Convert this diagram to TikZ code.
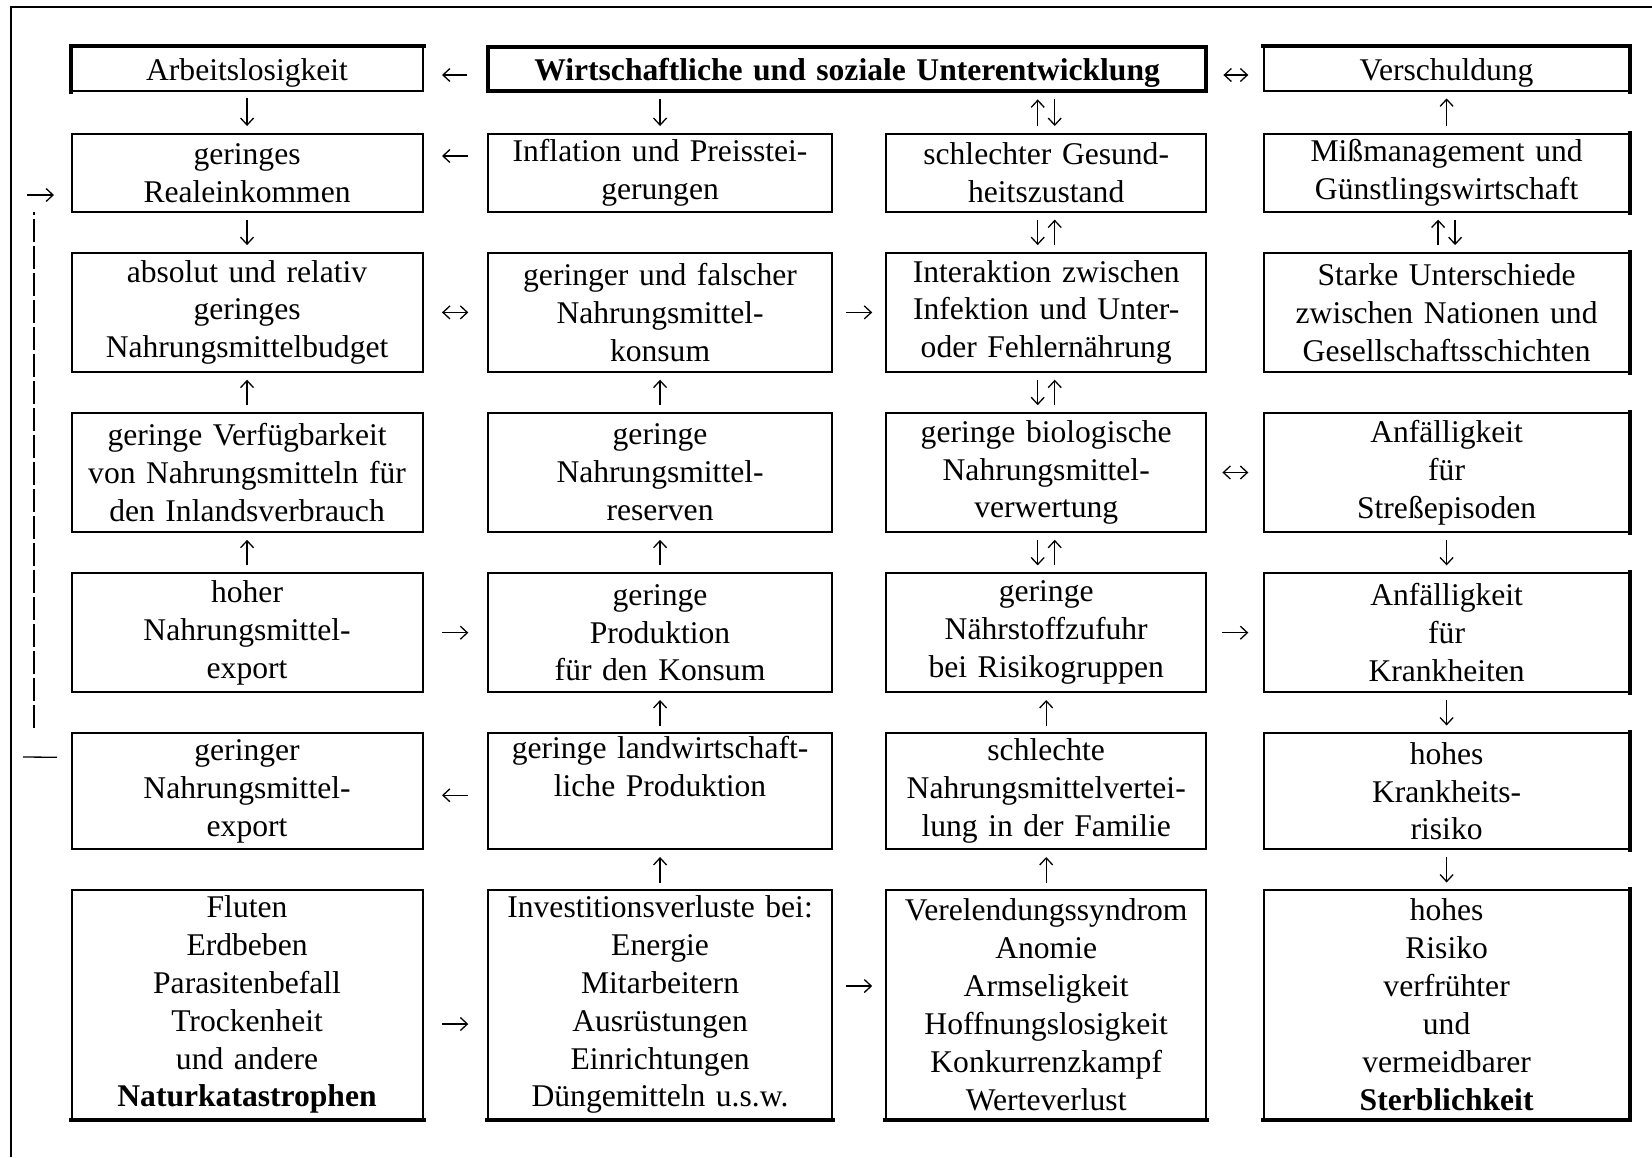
\documentclass[tikz,border=0pt]{standalone}
\usepackage{fontspec}
\setmainfont{Liberation Serif}
\usetikzlibrary{arrows.meta}
\newcommand\bxfont{\fontsize{15.8}{18.95}\selectfont}
\begin{document}
\begin{tikzpicture}[x=0.5pt,y=-0.5pt,
  bx/.style={draw, line width=1pt, inner sep=0pt, align=center, font=\bxfont},
  cA/.style={minimum width=175.45pt, text width=171pt},
  cB/.style={minimum width=172.25pt, text width=168pt},
  cC/.style={minimum width=160.2pt, text width=156pt},
  cD/.style={minimum width=182.3pt, text width=178pt},
  cT/.style={minimum width=359.3pt, text width=355pt},
  rA/.style={minimum height=21.6pt, text height=13pt, text depth=1.4pt},
  rB/.style={minimum height=39pt},
  rC/.style={minimum height=59.5pt},
  rF/.style={minimum height=57.95pt},
  rG/.style={minimum height=114.3pt},
  tip/.tip={Straight Barb[length=3.5pt,width=6.5pt]},
  conn/.style={line width=0.65pt, -tip},
  dbl/.style={line width=0.65pt, tip-tip},
  hg/.style={shorten <=#1, shorten >=#1},
  vg/.style={shorten <=3.4pt, shorten >=3.4pt},
  edgetwo/.style={line width=2pt, line cap=rect},
  fbl/.style={line width=0.65pt}
]
\useasboundingbox (0,0) rectangle (1652,1157);
% outer frame
\draw[line width=1pt] (11,1157) -- (11,7) -- (1652,7);

% row 0
\node[bx,cA,rA] (arb) at (247.05,69) {Arbeitslosigkeit};
\node[bx,cT,rA,line width=2pt,font=\bxfont\bfseries] (top) at (847.1,69) {Wirtschaftliche und soziale Unterentwicklung};
\node[bx,cD,rA] (vsch) at (1446.6,69) {Verschuldung};
% row 1
\node[bx,cA,rB] (real) at (247.05,172.8) {geringes\\Realeinkommen};
\node[bx,cB,rB] (infl) at (660.05,172.8) {Inflation und Preisstei-\\gerungen};
\node[bx,cC,rB] (ges) at (1046.2,172.8) {schlechter Gesund-\\heitszustand};
\node[bx,cD,rB] (miss) at (1446.6,172.8) {Mißmanagement und\\Günstlingswirtschaft};
% row 2
\node[bx,cA,rC] (budg) at (247.05,312.4) {absolut und relativ\\geringes\\Nahrungsmittelbudget};
\node[bx,cB,rC] (kons) at (660.05,312.4) {geringer und falscher\\Nahrungsmittel-\\konsum};
\node[bx,cC,rC] (inter) at (1046.2,312.4) {Interaktion zwischen\\Infektion und Unter-\\oder Fehlernährung};
\node[bx,cD,rC] (unter) at (1446.6,312.4) {Starke Unterschiede\\zwischen Nationen und\\Gesellschaftsschichten};
% row 3
\node[bx,cA,rC] (verf) at (247.05,472.5) {geringe Verfügbarkeit\\von Nahrungsmitteln für\\den Inlandsverbrauch};
\node[bx,cB,rC] (res) at (660.05,472.5) {geringe\\Nahrungsmittel-\\reserven};
\node[bx,cC,rC] (bio) at (1046.2,472.5) {geringe biologische\\Nahrungsmittel-\\verwertung};
\node[bx,cD,rC] (stress) at (1446.6,472.5) {Anfälligkeit\\für\\Streßepisoden};
% row 4
\node[bx,cA,rC] (expa) at (247.05,632.7) {hoher\\Nahrungsmittel-\\export};
\node[bx,cB,rC] (prod) at (660.05,632.7) {geringe\\Produktion\\für den Konsum};
\node[bx,cC,rC] (naehr) at (1046.2,632.7) {geringe\\Nährstoffzufuhr\\bei Risikogruppen};
\node[bx,cD,rC] (krank) at (1446.6,632.7) {Anfälligkeit\\für\\Krankheiten};
% row 5
\node[bx,cA,rF] (expb) at (247.05,791.25) {geringer\\Nahrungsmittel-\\export};
\node[bx,cB,rF] (landw) at (660.05,791.25) {geringe landwirtschaft-\\liche Produktion\\\strut};
\node[bx,cC,rF] (verteil) at (1046.2,791.25) {schlechte\\Nahrungsmittelvertei-\\lung in der Familie};
\node[bx,cD,rF] (risk) at (1446.6,791.25) {hohes\\Krankheits-\\risiko};
% row 6
\node[bx,cA,rG] (natur) at (247.05,1004.6) {Fluten\\Erdbeben\\Parasitenbefall\\Trockenheit\\und andere\\\textbf{Naturkatastrophen}};
\node[bx,cB,rG] (inv) at (660.05,1004.6) {Investitionsverluste bei:\\Energie\\Mitarbeitern\\Ausrüstungen\\Einrichtungen\\Düngemitteln u.s.w.};
\node[bx,cC,rG] (verel) at (1046.2,1004.6) {Verelendungssyndrom\\Anomie\\Armseligkeit\\Hoffnungslosigkeit\\Konkurrenzkampf\\Werteverlust};
\node[bx,cD,rG] (sterb) at (1446.6,1004.6) {hohes\\Risiko\\verfrühter\\und\\vermeidbarer\\\textbf{Sterblichkeit}};

% thicker edges
\draw[edgetwo] (arb.south west) -- (arb.north west) -- (arb.north east);
\draw[edgetwo] (vsch.north west) -- (vsch.north east) -- (vsch.south east);
\foreach \n in {miss,unter,stress,krank,risk,sterb}
  \draw[edgetwo] (\n.north east) -- (\n.south east);
\foreach \n in {natur,inv,verel,sterb}
  \draw[edgetwo] (\n.south west) -- (\n.south east);

% helper coordinates
\coordinate (infT) at (top.south -| infl.north);
\coordinate (gesT) at (top.south -| ges.north);

% row 0 connectors
\draw[conn,hg=9.25pt] ([yshift=-3pt]top.west) -- ([yshift=-3pt]arb.east);
\draw[dbl,hg=7.5pt] ([yshift=-3pt]top.east) -- ([yshift=-3pt]vsch.west);
% row 0 -> 1
\draw[conn,vg] (arb.south) -- (real.north);
\draw[conn,vg] (infT) -- (infl.north);
\draw[conn,vg] ([xshift=-4.25pt]ges.north) -- ([xshift=-4.25pt]gesT);
\draw[conn,vg] ([xshift=4.25pt]gesT) -- ([xshift=4.25pt]ges.north);
\draw[conn,vg] (miss.north) -- (vsch.south);
% row 1
\draw[conn,hg=9.25pt] ([yshift=8.4pt]infl.west) -- ([yshift=8.4pt]real.east);
% row 1 -> 2
\draw[conn,vg] (real.south) -- (budg.north);
\draw[conn,vg] ([xshift=-4.25pt]ges.south) -- ([xshift=-4.25pt]inter.north);
\draw[conn,vg] ([xshift=4.25pt]inter.north) -- ([xshift=4.25pt]ges.south);
\draw[conn,vg] ([xshift=-4.25pt]unter.north) -- ([xshift=-4.25pt]miss.south);
\draw[conn,vg] ([xshift=4.25pt]miss.south) -- ([xshift=4.25pt]unter.north);
% row 2
\draw[dbl,hg=9.25pt] (budg.east) -- (kons.west);
\draw[conn,hg=6.4pt] (kons.east) -- (inter.west);
% row 2 -> 3
\draw[conn,vg] (verf.north) -- (budg.south);
\draw[conn,vg] (res.north) -- (kons.south);
\draw[conn,vg] ([xshift=-4.25pt]inter.south) -- ([xshift=-4.25pt]bio.north);
\draw[conn,vg] ([xshift=4.25pt]bio.north) -- ([xshift=4.25pt]inter.south);
% row 3
\draw[dbl,hg=7.5pt] (bio.east) -- (stress.west);
% row 3 -> 4
\draw[conn,vg] (expa.north) -- (verf.south);
\draw[conn,vg] (prod.north) -- (res.south);
\draw[conn,vg] ([xshift=-4.25pt]bio.south) -- ([xshift=-4.25pt]naehr.north);
\draw[conn,vg] ([xshift=4.25pt]naehr.north) -- ([xshift=4.25pt]bio.south);
\draw[conn,vg] (stress.south) -- (krank.north);
% row 4
\draw[conn,hg=9.25pt] (expa.east) -- (prod.west);
\draw[conn,hg=7.5pt] (naehr.east) -- (krank.west);
% row 4 -> 5
\draw[conn,vg] (landw.north) -- (prod.south);
\draw[conn,vg] (verteil.north) -- (naehr.south);
\draw[conn,vg] (krank.south) -- (risk.north);
% row 5
\draw[conn,hg=9.25pt] ([yshift=-2pt]landw.west) -- ([yshift=-2pt]expb.east);
% row 5 -> 6
\draw[conn,vg] (inv.north) -- (landw.south);
\draw[conn,vg] (verel.north) -- (verteil.south);
\draw[conn,vg] (risk.south) -- (sterb.north);
% row 6
\draw[conn,hg=9.25pt] ([yshift=-9.7pt]natur.east) -- ([yshift=-9.7pt]inv.west);
\draw[conn,hg=6.4pt] ([yshift=9.3pt]inv.east) -- ([yshift=9.3pt]verel.west);

% feedback loop on the left
\coordinate (fbH) at (23,757);
\coordinate (fbVa) at (34,728);
\coordinate (fbVb) at (34,212);
\coordinate (fbS) at (27,195);
\draw[fbl] ([xshift=-6.8pt,yshift=17pt]expb.west) -- (fbH);
\draw[fbl, dash pattern=on 11.5pt off 2pt] (fbVa) -- (fbVb);
\draw[conn] (fbS) -- ([xshift=-8.3pt,yshift=-11.1pt]real.west);
\end{tikzpicture}
\end{document}
